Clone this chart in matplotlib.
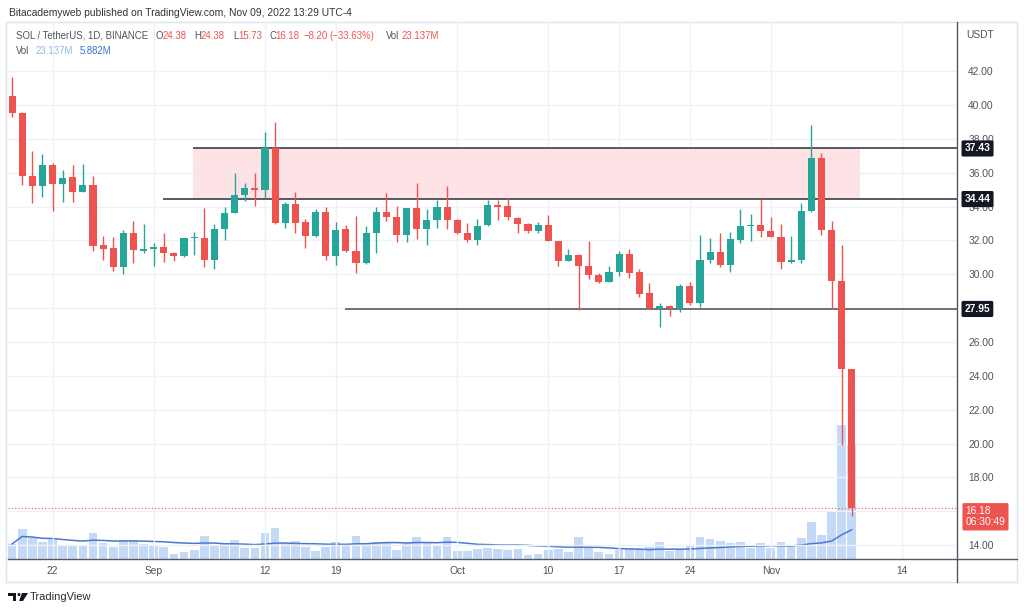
import matplotlib
matplotlib.use("Agg")
import matplotlib.pyplot as plt
import matplotlib.dates as mdates
from matplotlib.patches import Rectangle, Ellipse, Polygon
from matplotlib.lines import Line2D
from matplotlib.transforms import blended_transform_factory
import numpy as np
import pandas as pd

W, H = 1024, 613
plt.rcParams["font.family"] = ["Liberation Sans", "DejaVu Sans"]
FS = 7.4
FS_LEGEND = 6.9

GREEN = "#26a69a"
RED = "#ef5350"
GRAY = "#50535e"
GRID = "#eef1f6"
VOL_COLOR = "#c3d9f6"
MA_COLOR = "#4a78d2"
AXIS_LINE = "#555862"

# ── SOL / USDT daily candles, 18 Aug .. 9 Nov 2022 ──────────────────────────
dates = pd.date_range("2022-08-18", periods=84, freq="D")

opens = [
    40.52, 39.50, 35.80, 35.23, 36.47, 35.36, 35.72, 34.87, 35.25, 31.70,
    31.56, 30.40, 32.41, 31.39, 31.47, 31.60, 31.27, 31.07, 32.12, 32.17,
    30.84, 32.67, 33.59, 34.66, 35.07, 34.97, 37.43, 33.00, 34.14, 33.06,
    32.25, 33.67, 31.07, 32.65, 31.39, 30.64, 32.41, 33.69, 33.36, 32.31,
    33.89, 32.65, 33.20, 33.95, 33.20, 32.41, 32.02, 32.90, 34.08, 34.02,
    33.30, 32.96, 32.55, 32.90, 31.96, 30.80, 31.13, 30.48, 29.95, 29.56,
    30.15, 31.21, 30.15, 28.87, 27.98, 28.12, 27.92, 29.30, 28.28, 30.84,
    31.29, 30.54, 32.02, 32.84, 32.92, 32.55, 32.21, 30.74, 30.84, 33.73,
    36.88, 32.61, 29.60, 24.38,
]
highs = [
    41.66, 39.60, 37.29, 37.08, 36.59, 36.15, 36.43, 36.49, 35.80, 32.27,
    32.21, 32.61, 33.16, 32.98, 31.82, 32.41, 31.33, 32.17, 32.51, 33.89,
    32.96, 33.99, 35.96, 35.40, 36.00, 38.42, 39.01, 34.28, 34.83, 33.24,
    33.85, 33.99, 33.10, 32.90, 33.47, 32.84, 33.99, 34.81, 34.02, 33.92,
    35.40, 33.83, 34.38, 35.21, 33.24, 33.00, 33.26, 34.38, 34.38, 34.48,
    33.40, 33.04, 33.10, 33.49, 31.98, 31.52, 31.19, 31.98, 30.05, 30.48,
    31.40, 31.50, 30.29, 29.50, 28.28, 28.18, 29.42, 29.52, 32.31, 32.17,
    32.41, 32.51, 33.83, 33.55, 34.42, 33.36, 32.96, 32.25, 34.18, 38.81,
    37.14, 33.16, 31.72, 24.38,
]
lows = [
    39.30, 35.27, 34.22, 34.54, 33.75, 34.28, 34.28, 34.85, 31.39, 30.87,
    30.21, 30.01, 30.64, 31.23, 30.48, 30.74, 30.80, 31.03, 31.13, 30.44,
    30.30, 32.02, 33.59, 34.30, 34.05, 34.48, 32.95, 32.71, 32.45, 31.53,
    32.20, 30.87, 30.54, 31.30, 30.05, 30.60, 31.23, 33.14, 31.88, 31.88,
    32.08, 31.70, 32.71, 32.65, 32.38, 31.92, 31.72, 32.86, 33.20, 33.20,
    32.45, 32.41, 32.45, 31.94, 30.48, 30.76, 27.88, 29.69, 29.46, 29.54,
    29.89, 29.75, 28.67, 27.96, 26.86, 27.53, 27.78, 28.18, 28.08, 30.68,
    30.40, 30.15, 31.86, 31.98, 32.21, 32.18, 30.29, 30.64, 30.68, 33.70,
    32.31, 28.02, 19.91, 15.73,
]
closes = [
    39.50, 35.80, 35.21, 36.47, 35.36, 35.66, 34.87, 35.25, 31.68, 31.50,
    30.40, 32.41, 31.43, 31.50, 31.60, 31.23, 31.07, 32.17, 32.17, 30.84,
    32.67, 33.63, 34.66, 35.07, 34.97, 37.43, 33.00, 34.14, 33.04, 32.25,
    33.67, 31.07, 32.61, 31.37, 30.64, 32.41, 33.69, 33.36, 32.31, 33.89,
    32.65, 33.20, 33.95, 33.20, 32.41, 32.02, 32.84, 34.08, 33.99, 33.36,
    32.96, 32.55, 32.90, 31.96, 30.80, 31.13, 30.48, 29.95, 29.56, 30.15,
    31.21, 30.10, 28.85, 27.98, 28.12, 27.98, 29.30, 28.28, 30.84, 31.29,
    30.54, 32.06, 32.84, 32.92, 32.55, 32.21, 30.74, 30.84, 33.73, 36.88,
    32.61, 29.60, 24.38, 16.18,
]
# volume in millions of SOL
volume_m = [
    3.05, 6.09, 4.26, 3.39, 4.06, 2.90, 2.70, 2.70, 5.28, 3.25,
    2.38, 3.92, 3.80, 3.05, 2.58, 2.50, 0.95, 1.48, 1.89, 4.73,
    2.78, 3.25, 3.92, 2.17, 2.17, 5.28, 6.29, 3.25, 3.59, 2.38,
    1.62, 2.50, 3.45, 2.78, 4.61, 3.05, 3.51, 3.39, 1.89, 3.25,
    4.47, 3.39, 2.90, 4.41, 1.56, 1.56, 2.03, 2.23, 2.03, 1.89,
    2.03, 0.87, 1.08, 1.77, 2.09, 1.36, 4.47, 2.38, 1.36, 1.08,
    1.77, 2.03, 2.03, 2.44, 3.39, 1.56, 2.03, 2.70, 4.47, 4.06,
    3.71, 3.25, 3.39, 2.17, 3.25, 2.17, 3.51, 2.70, 4.26, 7.45,
    4.81, 9.68, 27.20, 23.137,
]
MA_LEN = 20
MA_TEXT = "5.882M"
COUNTDOWN = "06:30:49"

RANGE_TOP = 37.43
RANGE_BOTTOM = 34.44
SUPPORT = 27.95
RANGE_START = pd.Timestamp("2022-09-04 22:00")
RANGE_END = pd.Timestamp("2022-11-09 19:00")
TOP_LINE_START = pd.Timestamp("2022-09-04 22:00")
BOTTOM_LINE_START = pd.Timestamp("2022-09-01 22:00")
SUPPORT_START = pd.Timestamp("2022-09-19 22:00")

tick_dates = pd.to_datetime([
    "2022-08-22", "2022-09-01", "2022-09-12", "2022-09-19", "2022-10-01",
    "2022-10-10", "2022-10-17", "2022-10-24", "2022-11-01", "2022-11-14",
])
tick_labels = ["22", "Sep", "12", "19", "Oct", "10", "17", "24", "Nov", "14"]
price_ticks = np.arange(14, 43, 2)
hidden_price_ticks = {16, 28}   # fully covered by the price-scale labels

X_MIN = pd.Timestamp("2022-08-18") - pd.Timedelta(hours=9.6)
X_MAX = pd.Timestamp("2022-08-18") + pd.Timedelta(days=93.4)
Y_MIN, Y_MAX = 13.18, 44.90
VOL_MAX = 109.0


def px(x, y):
    return x / W, 1 - y / H


fig = plt.figure(figsize=(W / 100, H / 100), dpi=100)
left, top = px(8, 22)
right, bottom = px(957, 559)
ax = fig.add_axes([left, bottom, right - left, top - bottom])
vax = ax.twinx()
ax.set_zorder(vax.get_zorder() + 1)
ax.patch.set_visible(False)

x = mdates.date2num(dates)
o = np.array(opens)
h = np.array(highs)
l = np.array(lows)
c = np.array(closes)
colors = np.where(c >= o, GREEN, RED)

# volume pane
vol = pd.Series(volume_m)
vax.bar(x, vol, width=0.86, color=VOL_COLOR, lw=0)
vax.plot(x, vol.rolling(MA_LEN, min_periods=1).mean(), color=MA_COLOR, lw=1.1)
vax.set_ylim(0, VOL_MAX)
vax.set_yticks([])
vax.tick_params(right=False, labelright=False)
for s in vax.spines.values():
    s.set_visible(False)

# range box + levels
ax.add_patch(Rectangle((mdates.date2num(RANGE_START), RANGE_BOTTOM),
                       mdates.date2num(RANGE_END) - mdates.date2num(RANGE_START),
                       RANGE_TOP - RANGE_BOTTOM, fc="#fde3e6", ec="none", zorder=1))
xmax_num = mdates.date2num(X_MAX)
ax.hlines(RANGE_TOP, mdates.date2num(TOP_LINE_START), xmax_num, color="#2a2e39", lw=1.1, zorder=2)
ax.hlines(RANGE_BOTTOM, mdates.date2num(BOTTOM_LINE_START), xmax_num, color="#2a2e39", lw=1.1, zorder=2)
ax.hlines(SUPPORT, mdates.date2num(SUPPORT_START), xmax_num, color="#4a4d55", lw=1.1, zorder=2)
ax.axhline(closes[-1], color=RED, lw=0.8, ls=(0, (1, 2)), zorder=2)

# candles
ax.vlines(x, l, h, colors=colors, lw=1, zorder=3)
body_bottom = np.minimum(o, c)
body_h = np.maximum(np.abs(c - o), 0.07)
ax.bar(x, body_h, bottom=body_bottom, width=0.7, color=colors, lw=0, zorder=4)

ax.set_xlim(X_MIN, X_MAX)
ax.set_ylim(Y_MIN, Y_MAX)
ax.set_xticks(tick_dates)
ax.set_xticklabels(tick_labels)
ax.set_yticks(price_ticks)
ax.set_yticklabels(["" if p in hidden_price_ticks else f"{p:.2f}" for p in price_ticks])
ax.yaxis.tick_right()
ax.tick_params(axis="y", length=0, pad=8, labelsize=FS, labelcolor=GRAY)
ax.tick_params(axis="x", length=0, pad=5, labelsize=FS, labelcolor=GRAY)
ax.grid(True, color=GRID, lw=1)
ax.set_axisbelow(True)
for side in ("top", "left"):
    ax.spines[side].set_visible(False)
for side in ("right", "bottom"):
    ax.spines[side].set_color(AXIS_LINE)
    ax.spines[side].set_linewidth(1)

# price-scale labels
trans = blended_transform_factory(ax.transAxes, ax.transData)
for lvl in (RANGE_TOP, RANGE_BOTTOM, SUPPORT):
    ax.text(1.008, lvl, f"{lvl:.2f}", transform=trans, ha="left", va="center",
            fontsize=FS, color="white", fontweight="bold", zorder=6, clip_on=False,
            bbox=dict(boxstyle="round,pad=0.3,rounding_size=0.15", fc="#131722", ec="none"))
ax.text(1.009, closes[-1] + 0.12, f"{closes[-1]:.2f}\n{COUNTDOWN}", transform=trans,
        ha="left", va="top", fontsize=FS, color="white", linespacing=1.15, zorder=6,
        clip_on=False, bbox=dict(boxstyle="round,pad=0.3,rounding_size=0.15", fc=RED, ec="none"))

# frame, scale separators
fig.add_artist(Rectangle(px(6, 582), (1017 - 6) / W, (582 - 22) / H,
                         transform=fig.transFigure, fill=False, ec="#e0e3eb", lw=1))
fig.add_artist(Line2D([957 / W, 957 / W], [1 - 559 / H, 1 - 582 / H],
                      transform=fig.transFigure, color=AXIS_LINE, lw=1))
fig.add_artist(Line2D([957 / W, 1017 / W], [1 - 559 / H, 1 - 559 / H],
                      transform=fig.transFigure, color=AXIS_LINE, lw=1))

fig.text(*px(966, 35), "USDT", fontsize=FS, color=GRAY, va="center")
fig.text(*px(9, 13), "Bitacademyweb published on TradingView.com, Nov 09, 2022 13:29 UTC-4",
         fontsize=FS, color="#333333", va="center")

chg = closes[-1] - closes[-2]
pct = chg / closes[-2] * 100
line1 = [
    ("SOL / TetherUS, 1D, BINANCE", 16, GRAY),
    ("O", 156, GRAY), (f"{opens[-1]:.2f}", 163, RED),
    ("H", 194, GRAY), (f"{highs[-1]:.2f}", 201, RED),
    ("L", 233, GRAY), (f"{lows[-1]:.2f}", 238, RED),
    ("C", 269, GRAY), (f"{closes[-1]:.2f}", 275, RED),
    (f"\u2212{abs(chg):.2f}", 304, RED), (f"(\u2212{abs(pct):.2f}%)", 329, RED),
    ("Vol", 386, GRAY), (f"{volume_m[-1]:.3f}M", 402, RED),
]
for txt, xp, col in line1:
    fig.text(*px(xp, 36), txt, fontsize=FS_LEGEND, color=col, va="center")
line2 = [("Vol", 16, GRAY), (f"{volume_m[-1]:.3f}M", 36, "#8fb5ec"), (MA_TEXT, 80, "#3d6fd6")]
for txt, xp, col in line2:
    fig.text(*px(xp, 51), txt, fontsize=FS_LEGEND, color=col, va="center")

# TradingView logo
LOGO = "#131722"
fig.add_artist(Rectangle(px(8, 596), 8 / W, 3 / H, transform=fig.transFigure, fc=LOGO, ec="none"))
fig.add_artist(Rectangle(px(13, 601), 3 / W, 8 / H, transform=fig.transFigure, fc=LOGO, ec="none"))
fig.add_artist(Ellipse(px(19, 594.5), 3 / W, 3 / H, transform=fig.transFigure, fc=LOGO, ec="none"))
fig.add_artist(Polygon([px(22, 593), px(28, 593), px(23, 601), px(19, 601)],
                       closed=True, transform=fig.transFigure, fc=LOGO, ec="none"))
fig.text(*px(30, 597), "TradingView", fontsize=FS + 0.6, color="#2a2e39", va="center")

fig.savefig("out.png", dpi=100, facecolor="white")
